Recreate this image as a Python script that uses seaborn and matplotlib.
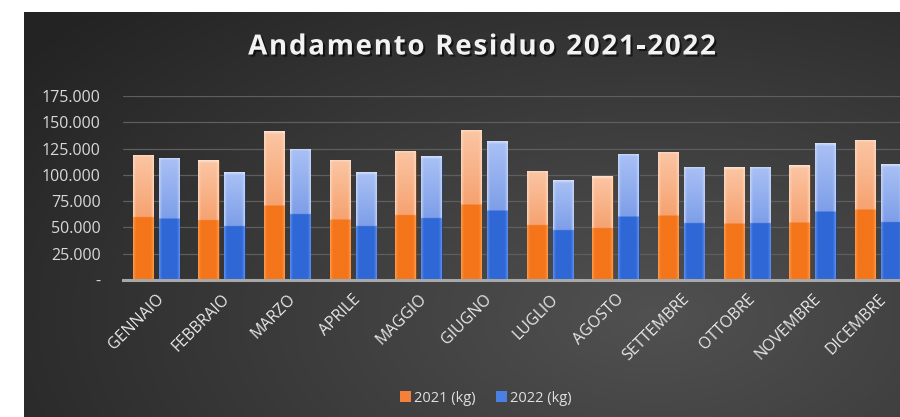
import numpy as np
import pandas as pd
import matplotlib
matplotlib.use("Agg")
import matplotlib.pyplot as plt
import matplotlib.patheffects as pe
from matplotlib.patches import Patch
from matplotlib.ticker import FuncFormatter
import matplotlib.colors as mcolors
import seaborn as sns

# ---------------- data ----------------
months = ["GENNAIO", "FEBBRAIO", "MARZO", "APRILE", "MAGGIO", "GIUGNO",
          "LUGLIO", "AGOSTO", "SETTEMBRE", "OTTOBRE", "NOVEMBRE", "DICEMBRE"]
values_2021 = [119000, 113800, 141700, 114400, 123000, 143000,
               103700, 98600, 122000, 107100, 109000, 133500]
values_2022 = [116300, 102700, 124600, 102700, 117900, 131900,
               95100, 120100, 107800, 107800, 130000, 110300]
series_names = ["2021 (kg)", "2022 (kg)"]
title_text = "Andamento Residuo 2021-2022"
y_ticks = [0, 25000, 50000, 75000, 100000, 125000, 150000, 175000]

df = pd.DataFrame({
    "mese": months * 2,
    "valore": values_2021 + values_2022,
    "serie": [series_names[0]] * 12 + [series_names[1]] * 12,
})

sns.set_theme(style="white")
plt.rcParams["font.family"] = ["Open Sans", "DejaVu Sans"]

W, H = 900, 417
fig = plt.figure(figsize=(W / 100, H / 100), dpi=100, facecolor="white")

# ---------------- background (dark radial gradient) ----------------
bg = fig.add_axes([24 / W, 0, (W - 24) / W, (H - 12) / H])
bg.set_axis_off()
gy, gx = np.mgrid[0:1:300j, 0:1:600j]
r = np.sqrt(((gx - 0.72) / 0.9) ** 2 + ((gy - 0.25) / 1.1) ** 2)
r = np.clip(r, 0, 1)
c_in = np.array(mcolors.to_rgb("#515151"))
c_out = np.array(mcolors.to_rgb("#232323"))
img = c_in[None, None, :] * (1 - r[..., None]) + c_out[None, None, :] * r[..., None]
bg.imshow(img, origin="lower", extent=[0, 1, 0, 1], aspect="auto", interpolation="bilinear")
bg.set_xlim(0, 1)
bg.set_ylim(0, 1)

# ---------------- main axes ----------------
ax = fig.add_axes([123 / W, 137 / H, 788 / W, 184 / H])
ax.set_facecolor("none")

palette = {series_names[0]: "#f5781e", series_names[1]: "#2f68d6"}
sns.barplot(data=df, x="mese", y="valore", hue="serie", order=months,
            hue_order=series_names, palette=palette, width=0.8, gap=0.225,
            ax=ax, legend=False, zorder=3, saturation=1)

styles = {
    "#f5781e": dict(dark="#f4751a", dark_edge="#ff9a4a", light0="#f6a270",
                    light1="#fbc6a4", light_edge="#fdd6bc"),
    "#2f68d6": dict(dark="#2f68d6", dark_edge="#5c8ff0", light0="#7d9ee8",
                    light1="#aac1f5", light_edge="#c3d4f8"),
}

px_per_unit = 184 / 175000.0


def bar_image(st, height_val, ncol=40, nrow=300):
    t = np.linspace(0, 1, nrow)[:, None]
    s = np.linspace(0, 1, ncol)[None, :]
    dark = np.array(mcolors.to_rgb(st["dark"]))
    dark_e = np.array(mcolors.to_rgb(st["dark_edge"]))
    l0 = np.array(mcolors.to_rgb(st["light0"]))
    l1 = np.array(mcolors.to_rgb(st["light1"]))
    le = np.array(mcolors.to_rgb(st["light_edge"]))
    top = (t >= 0.5).astype(float)
    tt = np.clip((t - 0.5) / 0.5, 0, 1)
    center = (1 - top)[..., None] * dark + top[..., None] * (l0 * (1 - tt[..., None]) + l1 * tt[..., None])
    center = np.broadcast_to(center, (nrow, ncol, 3)).copy()
    edge_col = (1 - top)[..., None] * dark_e + top[..., None] * le
    edge_col = np.broadcast_to(edge_col, (nrow, ncol, 3))
    d = np.minimum(s, 1 - s)
    w = np.clip(1 - d / 0.16, 0, 1) ** 1.5
    w = np.broadcast_to(w, (nrow, ncol))[..., None]
    out = center * (1 - w) + edge_col * w
    hpx = max(height_val * px_per_unit, 1)
    bev = np.clip(1 - (1 - t) * hpx / 3.0, 0, 1)
    bev = np.broadcast_to(bev, (nrow, ncol))[..., None]
    out = out * (1 - 0.5 * bev) + np.ones(3) * 0.5 * bev
    return np.clip(out, 0, 1)


for p in list(ax.patches):
    fc = mcolors.to_hex(p.get_facecolor())
    if fc not in styles:
        continue
    x0 = p.get_x()
    x1 = x0 + p.get_width()
    h = p.get_height()
    im = ax.imshow(bar_image(styles[fc], h), origin="lower", extent=[x0, x1, 0, h],
                   aspect="auto", interpolation="bilinear", zorder=3.5)
    im.set_clip_path(p)
    p.set_edgecolor((0, 0, 0, 0.25))
    p.set_linewidth(0.6)

ax.set_xlim(-0.5, 11.5)
ax.set_ylim(0, 175000)
ax.set_yticks(y_ticks)


def it_fmt(v, pos):
    if v == 0:
        return "-"
    return f"{int(v):,}".replace(",", ".")


ax.yaxis.set_major_formatter(FuncFormatter(it_fmt))
ax.grid(axis="y", color="#5e5e5e", linewidth=0.9, zorder=0)
ax.set_axisbelow(True)
for side in ["top", "right", "left"]:
    ax.spines[side].set_visible(False)
ax.spines["bottom"].set_color("#a8a8a8")
ax.spines["bottom"].set_linewidth(2.2)
ax.spines["bottom"].set_zorder(5)
ax.tick_params(axis="y", length=0, pad=16, labelsize=11.5, labelcolor="#d9d9d9")
ax.tick_params(axis="x", length=0, pad=8, labelsize=11.5, labelcolor="#e8e8e8")
ax.set_xlabel("")
ax.set_ylabel("")
ax.set_xticks(range(len(months)))
ax.set_xticklabels(months, rotation=45, ha="right", va="top", rotation_mode="anchor")

# ---------------- title with letter spacing ----------------
renderer = fig.canvas.get_renderer()
title_kw = dict(fontsize=20, fontweight="bold", color="#f2f2f2",
                path_effects=[pe.withSimplePatchShadow(offset=(1.5, -1.5),
                                                       shadow_rgbFace="black", alpha=0.6)])
probe = fig.text(0, 0, "", **title_kw)
fp = probe.get_fontproperties()
probe.remove()


def prefix_w(sv):
    if not sv:
        return 0.0
    w, _, _ = renderer.get_text_width_height_descent(sv.replace(" ", "\u00a0"), fp, ismath=False)
    return w


spacing = 1.7
total = prefix_w(title_text) + spacing * (len(title_text) - 1)
x_start = 482 - total / 2
for i, ch in enumerate(title_text):
    if ch == " ":
        continue
    xp = x_start + prefix_w(title_text[:i]) + spacing * i
    fig.text(xp / W, 1 - 47 / H, ch, ha="left", va="center", **title_kw)

# ---------------- legend ----------------
handles = [Patch(facecolor="#f5803a", edgecolor="none"), Patch(facecolor="#4a80e4", edgecolor="none")]
fig.legend(handles, series_names, loc="center", bbox_to_anchor=(486 / W, 1 - 398 / H),
           ncol=2, frameon=False, fontsize=10.5, labelcolor="#e0e0e0",
           handlelength=0.75, handleheight=0.75, handletextpad=0.2, columnspacing=1.4)

fig.savefig("out.png", dpi=100, facecolor="white")
